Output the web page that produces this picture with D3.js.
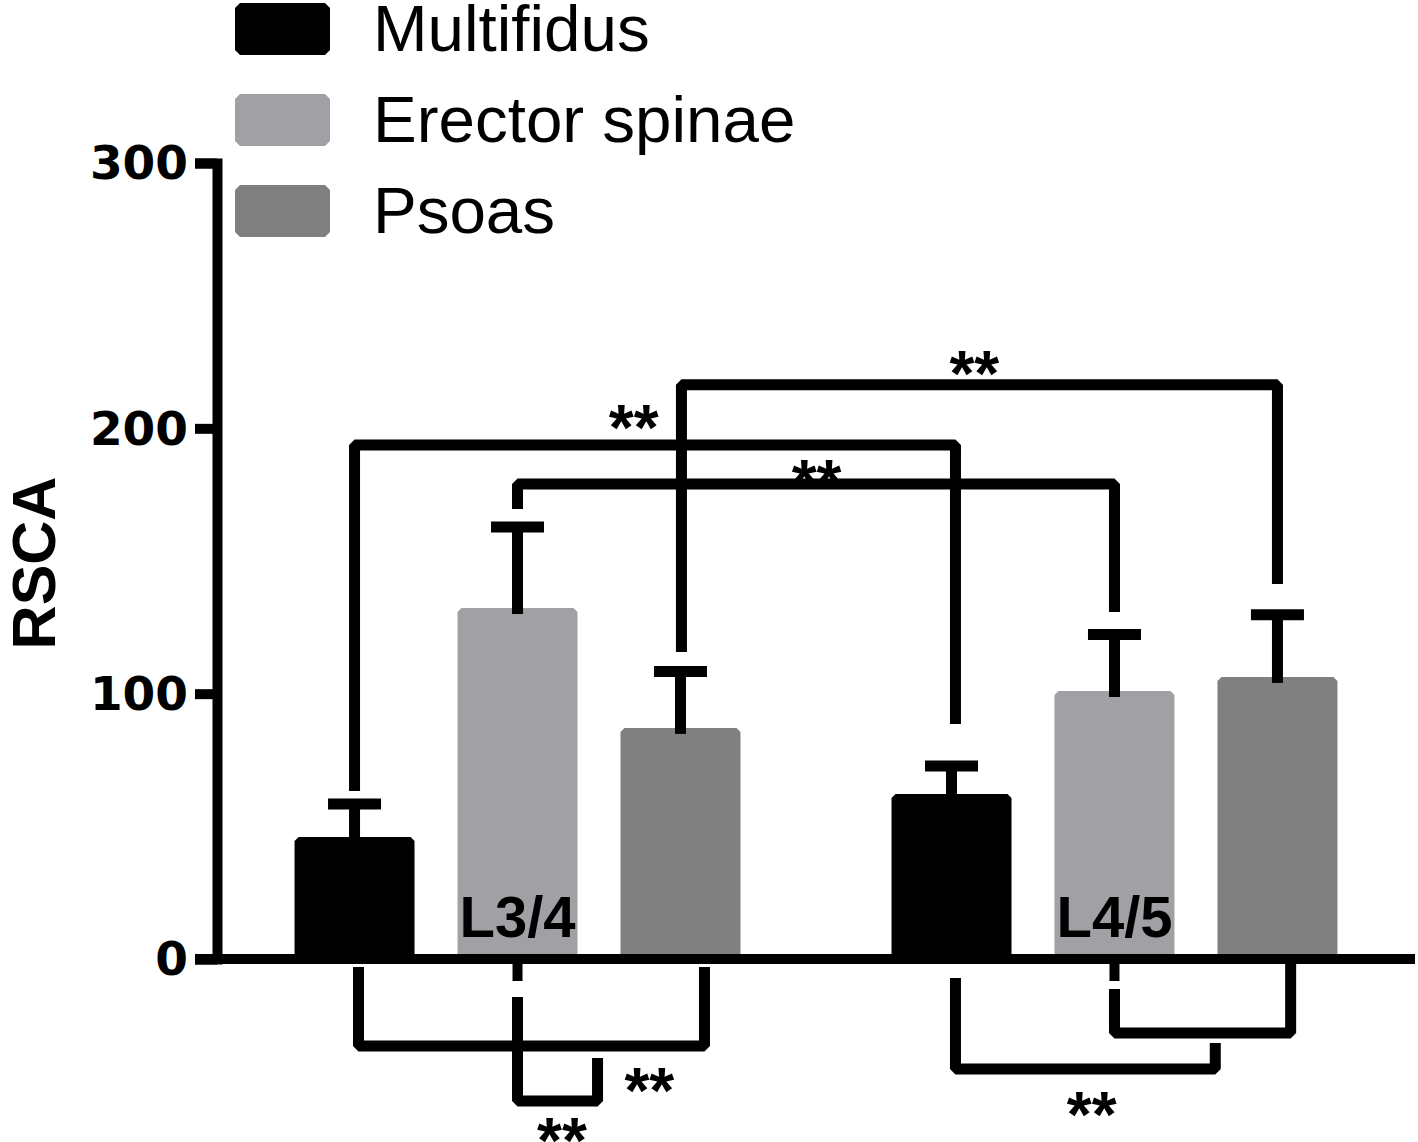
<!DOCTYPE html>
<html>
<head>
<meta charset="utf-8">
<script src="https://cdn.jsdelivr.net/npm/d3@7"></script>
<style>
  html, body { margin: 0; padding: 0; background: #fff; }
  svg { display: block; }
</style>
</head>
<body>
<script>
// ---- data ----
const groups = ["L3/4", "L4/5"];
const series = ["Multifidus", "Erector spinae", "Psoas"];
const seriesColors = ["#000000", "#a1a1a5", "#808080"];
const multifidusMean = [46.0, 62.2];
const erectorMean = [132.3, 101.0];
const psoasMean = [87.1, 106.3];
const multifidusErr = [12.4, 10.5];
const erectorErr = [30.5, 21.3];
const psoasErr = [21.3, 23.4];
const yTicks = [0, 100, 200, 300];
const yLabel = "RSCA";
const starText = "**";

// significance brackets: points [groupIndex, seriesIndex, offset (bar widths), value]
const bracketsAbove = [
  [[0,0,0,63.3],[0,0,0,193.7],[1,0,0.033,193.7],[1,0,0.033,88.6]],
  [[0,1,0,169.6],[0,1,0,179.0],[1,1,0,179.0],[1,1,0,130.8]],
  [[0,2,0.008,115.7],[0,2,0.008,216.4],[1,2,0,216.4],[1,2,0,141.3]]
];
const bracketsBelow = [
  [[0,0,0.033,-3],[0,0,0.033,-32.8],[0,2,0.2,-32.8],[0,2,0.2,-3]],
  [[0,1,0,-14.3],[0,1,0,-53.5],[0,1,0.667,-53.5],[0,1,0.667,-37.3]],
  [[1,0,0.033,-7.2],[1,0,0.033,-41.5],[1,1,0.84,-41.5],[1,1,0.84,-31.7]],
  [[1,1,0,-11.3],[1,1,0,-27.9],[1,2,0.11,-27.9],[1,2,0.11,0]]
];
// star labels: [groupIndex, seriesIndex, offset, value(center)]
const starLabels = [
  [0,2,-0.39,205],[1,0,-1.125,184.3],[1,0,0.19,225.4],
  [0,2,-0.26,-44.9],[0,1,0.37,-63.5],[1,1,-0.19,-53.9]
];

const means = [multifidusMean, erectorMean, psoasMean];
const errs = [multifidusErr, erectorErr, psoasErr];

// ---- layout ----
const W = 1418, H = 1142;
const svg = d3.select("body").append("svg").attr("width", W).attr("height", H);

const axisX = 217, baseY = 959;
const y = d3.scaleLinear().domain([0, 300]).range([baseY, 163]);
const x0 = d3.scaleBand().domain(groups).range([axisX, 1415]).paddingInner(0.181).paddingOuter(0.0939);
const x1 = d3.scaleBand().domain(series).range([0, x0.bandwidth()]).paddingInner(0.2638).paddingOuter(0.1319);
const bw = x1.bandwidth();
const cx = (g, s, dx) => x0(groups[g]) + x1(series[s]) + bw / 2 + (dx || 0) * bw;

const lineW = 10;

// bars
const barData = [];
groups.forEach((g, gi) => series.forEach((s, si) => barData.push({gi, si, v: means[si][gi], e: errs[si][gi]})));

const ch = 4;
svg.append("g").selectAll("path").data(barData).join("path")
  .attr("d", d => {
    const l = x0(groups[d.gi]) + x1(series[d.si]), r = l + bw, t = y(d.v), b = y(0);
    return `M${l},${b}V${t+ch}L${l+ch},${t}H${r-ch}L${r},${t+ch}V${b}Z`;
  })
  .attr("fill", d => seriesColors[d.si]);

// error bars
const eb = svg.append("g").attr("stroke", "#000").attr("stroke-width", 11).attr("fill", "none");
eb.selectAll("line.v").data(barData).join("line").attr("class", "v")
  .attr("x1", d => cx(d.gi, d.si)).attr("x2", d => cx(d.gi, d.si))
  .attr("y1", d => y(d.v) + 6).attr("y2", d => y(d.v + d.e));
eb.selectAll("line.c").data(barData).join("line").attr("class", "c")
  .attr("x1", d => cx(d.gi, d.si) - 26.5).attr("x2", d => cx(d.gi, d.si) + 26.5)
  .attr("y1", d => y(d.v + d.e)).attr("y2", d => y(d.v + d.e));

// labels L3/4, L4/5 via x axis
const xAxis = svg.append("g").attr("transform", `translate(0,${baseY})`)
  .call(d3.axisBottom(x0).tickSize(22).tickSizeOuter(0));
xAxis.select(".domain").remove();
xAxis.selectAll(".tick line").attr("stroke", "#000").attr("stroke-width", lineW);
xAxis.selectAll(".tick text").attr("y", -22).attr("dy", 0)
  .attr("font-family", "Liberation Sans, Arial, sans-serif").attr("font-weight", "bold")
  .attr("font-size", 58).attr("fill", "#000");
svg.append("line").attr("x1", axisX - 22).attr("x2", 1415).attr("y1", baseY).attr("y2", baseY)
  .attr("stroke", "#000").attr("stroke-width", lineW);

// y axis
const yAxis = svg.append("g").attr("transform", `translate(${axisX},0)`)
  .call(d3.axisLeft(y).tickValues(yTicks).tickSize(22).tickSizeOuter(22).tickPadding(7));
yAxis.select(".domain").attr("stroke", "#000").attr("stroke-width", lineW).attr("stroke-linejoin", "miter");
yAxis.selectAll(".tick line").attr("stroke", "#000").attr("stroke-width", lineW);
yAxis.selectAll(".tick text").attr("font-family", "DejaVu Sans, sans-serif").attr("font-weight", "bold")
  .attr("font-size", 47).attr("fill", "#000").attr("dy", "0.34em");

// y label
svg.append("text").attr("transform", `translate(55,${(y(0)+y(300))/2 + 2}) rotate(-90)`)
  .attr("text-anchor", "middle").attr("font-family", "Liberation Sans, Arial, sans-serif")
  .attr("font-weight", "bold").attr("font-size", 61).text(yLabel);

// brackets
const line = d3.line().x(p => cx(p[0], p[1], p[2])).y(p => y(p[3]));
svg.append("g").selectAll("path").data(bracketsAbove.concat(bracketsBelow)).join("path")
  .attr("d", line).attr("fill", "none").attr("stroke", "#000").attr("stroke-width", 11)
  .attr("stroke-linejoin", "bevel").attr("stroke-linecap", "butt");

// stars
const starSize = 64;
svg.append("g").selectAll("text").data(starLabels).join("text")
  .attr("x", p => cx(p[0], p[1], p[2]))
  .attr("y", p => y(p[3]) + starSize * 0.55)
  .attr("text-anchor", "middle").attr("font-family", "Liberation Sans, Arial, sans-serif")
  .attr("font-weight", "bold").attr("font-size", starSize).text(starText);

// legend
const legendRows = [29, 120, 211];
const lg = svg.append("g");
series.forEach((s, i) => {
  const l = 235, r = 330, t = legendRows[i] - 26, b = legendRows[i] + 26, c = 5;
  lg.append("path").attr("d", `M${l+c},${t}H${r-c}L${r},${t+c}V${b-c}L${r-c},${b}H${l+c}L${l},${b-c}V${t+c}Z`)
    .attr("fill", seriesColors[i]);
  lg.append("text").attr("x", 373).attr("y", legendRows[i] + 22)
    .attr("font-family", "Liberation Sans, Arial, sans-serif").attr("font-size", 65.5).text(s);
});
</script>
</body>
</html>
